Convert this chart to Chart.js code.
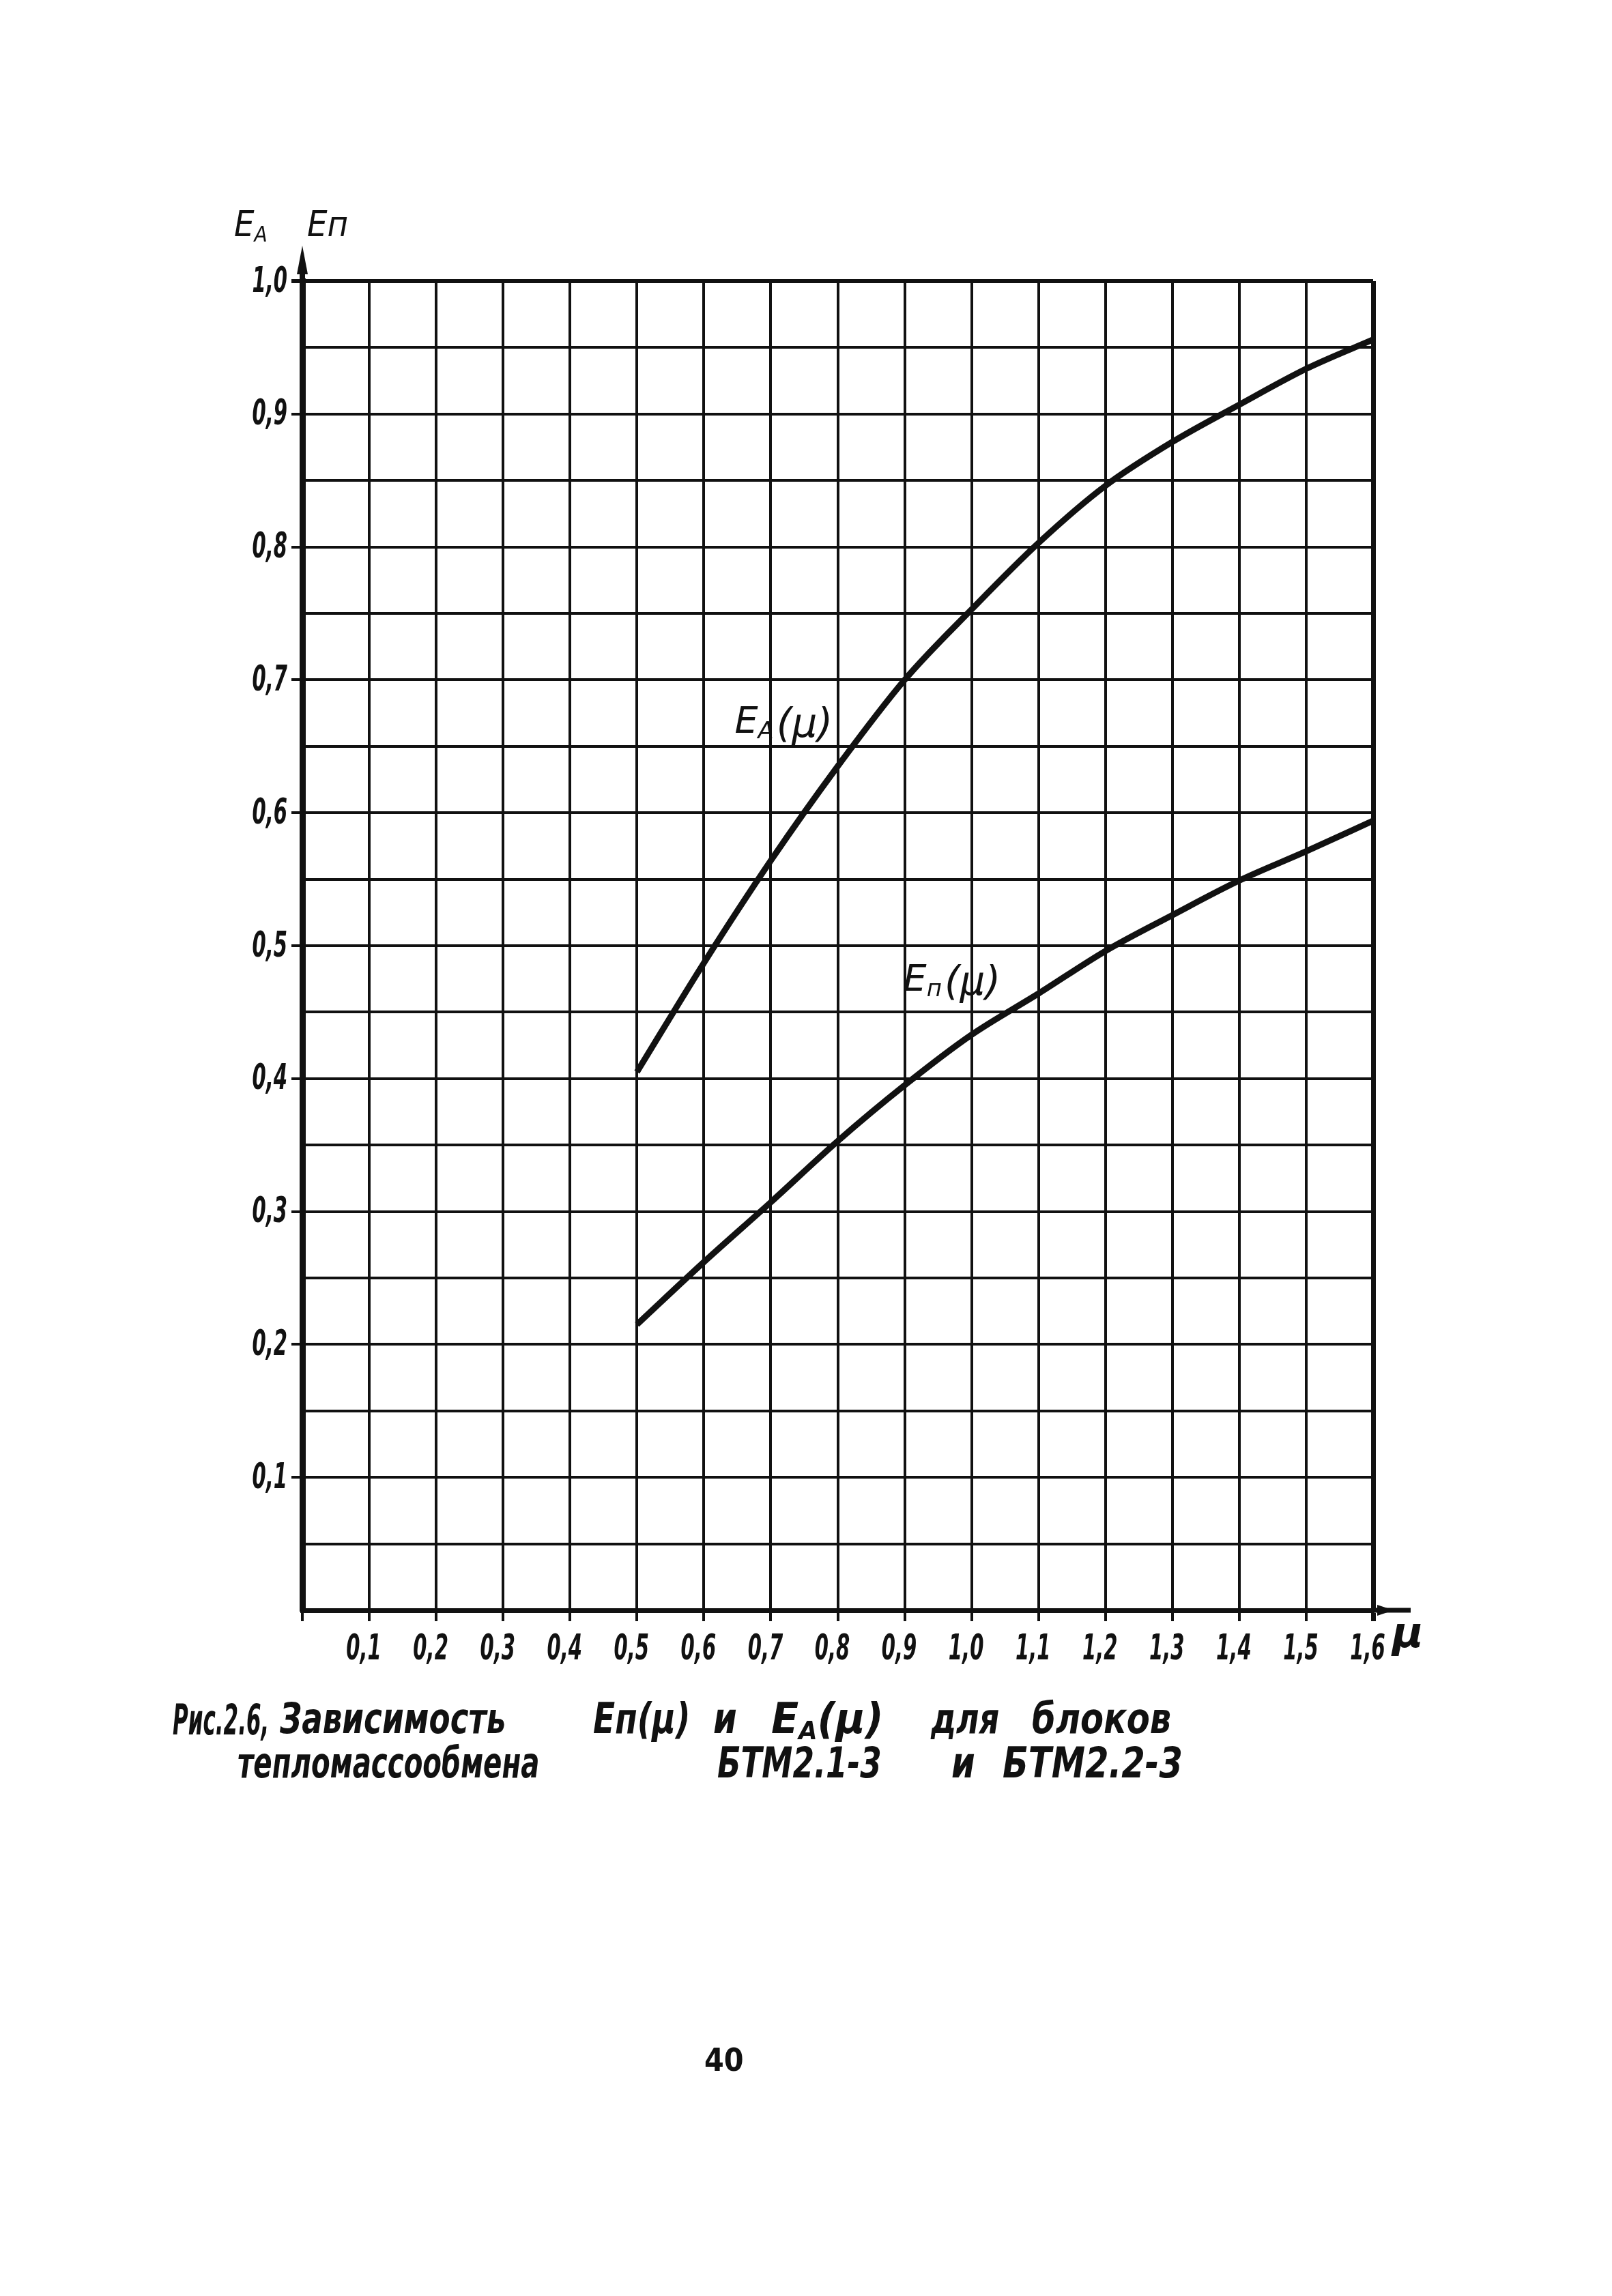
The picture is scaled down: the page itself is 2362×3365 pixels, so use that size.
<!DOCTYPE html>
<html lang="ru">
<head>
<meta charset="utf-8">
<title>Рис. 2.6</title>
<script src="https://cdn.jsdelivr.net/npm/chart.js@4.4.1/dist/chart.umd.min.js"></script>
<style>
    html, body { margin: 0; padding: 0; background: #fff; }
    #page { position: relative; width: 2362px; height: 3365px; overflow: hidden; background: #fff; }
    #chartBox { position: absolute; left: 0; top: 0; width: 2362px; height: 3365px; }
    .txt {
        --sx: 0.8;
        position: absolute;
        font-family: "DejaVu Sans", sans-serif;
        font-style: italic;
        color: #111;
        white-space: nowrap;
        line-height: 1;
        transform: scaleX(var(--sx));
        transform-origin: left top;
    }
    .cap { font-size: 62px; font-weight: bold; }
    .sub { font-size: 0.6em; position: relative; top: 0.25em; }
</style>
</head>
<body>
<div id="page">
    <div id="chartBox"><canvas id="effChart"></canvas></div>

    <!-- axis titles -->
    <div class="txt" style="left:343px; top:302px; font-size:52px; --sx:0.9;">E<span class="sub">А</span></div>
    <div class="txt" style="left:450px; top:302px; font-size:52px; --sx:0.9;">Eп</div>
    <div class="txt" style="left:2040px; top:2362px; font-size:62px; font-weight:bold; --sx:1;">μ</div>

    <!-- caption -->
    <div class="txt cap" style="left:253px; top:2490px; --sx:0.5;">Рис.2.6,</div>
    <div class="txt cap" style="left:410px; top:2488px; --sx:0.73;">Зависимость</div>
    <div class="txt cap" style="left:869px; top:2488px; --sx:0.76;">Eп(μ)</div>
    <div class="txt cap" style="left:1045px; top:2488px; --sx:0.8;">и</div>
    <div class="txt cap" style="left:1130px; top:2488px; --sx:0.95;">E<span class="sub">А</span>(μ)</div>
    <div class="txt cap" style="left:1364px; top:2488px; --sx:0.74;">для</div>
    <div class="txt cap" style="left:1512px; top:2488px; --sx:0.8;">блоков</div>

    <div class="txt cap" style="left:348px; top:2553px; --sx:0.65;">тепломассообмена</div>
    <div class="txt cap" style="left:1051px; top:2553px; --sx:0.73;">БТМ2.1-3</div>
    <div class="txt cap" style="left:1394px; top:2553px; --sx:0.8;">и</div>
    <div class="txt cap" style="left:1469px; top:2553px; --sx:0.8;">БТМ2.2-3</div>

    <div class="txt" style="left:1032px; top:2996px; font-size:46px; font-weight:bold; font-style:normal; --sx:0.9;">40</div>
</div>

<script>
// μ values (x axis)
const mu = [0.5, 0.6, 0.7, 0.8, 0.9, 1.0, 1.1, 1.2, 1.3, 1.4, 1.5, 1.6];

// EА(μ) - upper curve
const eA = [0.405, 0.487, 0.564, 0.635, 0.700, 0.753, 0.803, 0.846, 0.879, 0.907, 0.934, 0.956];

// Eп(μ) - lower curve
const eN = [0.215, 0.262, 0.307, 0.353, 0.395, 0.433, 0.464, 0.496, 0.523, 0.549, 0.571, 0.594];

// axis ranges / steps
const xMin = 0, xMax = 1.6, xStep = 0.1;
const yMin = 0, yMax = 1.0, yStep = 0.05;

// curve captions in data coordinates
const curveLabels = [
    { main: "E", sub: "А", rest: "(μ)", x: 0.646, y: 0.660 },
    { main: "E", sub: "п", rest: "(μ)", x: 0.898, y: 0.466 }
];

const INK = "#111";
const LABEL_FONT = "italic bold 52px 'DejaVu Sans', sans-serif";
const LABEL_SX = 0.56;

function comma(v) {
    return v.toFixed(1).replace(".", ",");
}

function isTenth(v) {
    return Math.abs(Math.round(v * 10) - v * 10) < 1e-6;
}

// narrow hand-lettered look for tick labels
function drawNarrow(ctx, text, cx, cy, align) {
    ctx.save();
    ctx.translate(cx, cy);
    ctx.scale(LABEL_SX, 1);
    ctx.textAlign = align;
    ctx.textBaseline = "middle";
    ctx.fillText(text, 0, 0);
    ctx.restore();
}

const decorations = {
    id: "decorations",
    afterDraw(chart) {
        const { ctx, chartArea: a, scales: { x, y } } = chart;
        ctx.save();
        ctx.fillStyle = INK;
        ctx.strokeStyle = INK;

        // tick labels
        ctx.font = LABEL_FONT;
        x.ticks.forEach(t => {
            if (t.value > 0) drawNarrow(ctx, comma(t.value), x.getPixelForValue(t.value) - 8, a.bottom + 58, "center");
        });
        y.ticks.forEach(t => {
            if (t.value > 0 && isTenth(t.value)) drawNarrow(ctx, comma(t.value), a.left - 22, y.getPixelForValue(t.value) + 2, "right");
        });

        // arrow on y axis
        ctx.lineWidth = 8;
        ctx.beginPath();
        ctx.moveTo(a.left, a.top);
        ctx.lineTo(a.left, a.top - 25);
        ctx.stroke();
        ctx.beginPath();
        ctx.moveTo(a.left, a.top - 52);
        ctx.lineTo(a.left - 8, a.top - 10);
        ctx.lineTo(a.left + 8, a.top - 10);
        ctx.closePath();
        ctx.fill();

        // arrow on x axis
        ctx.lineWidth = 7;
        ctx.beginPath();
        ctx.moveTo(a.right, a.bottom);
        ctx.lineTo(a.right + 55, a.bottom);
        ctx.stroke();
        ctx.beginPath();
        ctx.moveTo(a.right + 30, a.bottom);
        ctx.lineTo(a.right + 6, a.bottom - 8);
        ctx.lineTo(a.right + 6, a.bottom + 8);
        ctx.closePath();
        ctx.fill();

        // curve captions
        ctx.textBaseline = "alphabetic";
        curveLabels.forEach(l => {
            let px = x.getPixelForValue(l.x);
            const py = y.getPixelForValue(l.y);
            ctx.font = "italic 54px 'DejaVu Sans', sans-serif";
            ctx.fillText(l.main, px, py);
            px += ctx.measureText(l.main).width;
            ctx.font = "italic 34px 'DejaVu Sans', sans-serif";
            ctx.fillText(l.sub, px, py + 8);
            px += ctx.measureText(l.sub).width + 4;
            ctx.font = "italic 58px 'DejaVu Sans', sans-serif";
            ctx.fillText(l.rest, px, py + 6);
        });
        ctx.restore();
    }
};

new Chart(document.querySelector("#effChart"), {
    type: "line",
    data: {
        datasets: [
            {
                label: "EА(μ)",
                data: mu.map((m, i) => ({ x: m, y: eA[i] })),
                borderColor: INK,
                borderWidth: 9,
                pointRadius: 0,
                cubicInterpolationMode: "monotone",
                fill: false
            },
            {
                label: "Eп(μ)",
                data: mu.map((m, i) => ({ x: m, y: eN[i] })),
                borderColor: INK,
                borderWidth: 9,
                pointRadius: 0,
                cubicInterpolationMode: "monotone",
                fill: false
            }
        ]
    },
    options: {
        responsive: true,
        maintainAspectRatio: false,
        animation: false,
        layout: { padding: { left: 293, top: 412, right: 350, bottom: 895 } },
        plugins: { legend: { display: false }, tooltip: { enabled: false } },
        scales: {
            x: {
                type: "linear",
                min: xMin,
                max: xMax,
                afterFit: scale => { scale.height = 110; },
                ticks: {
                    stepSize: xStep,
                    autoSkip: false,
                    maxRotation: 0,
                    callback: () => ""
                },
                grid: {
                    color: INK,
                    lineWidth: c => (Math.abs(c.tick.value - xMax) < 1e-6 ? 7 : 4),
                    tickLength: 16,
                    tickColor: INK
                },
                border: { display: true, color: INK, width: 7 }
            },
            y: {
                type: "linear",
                min: yMin,
                max: yMax,
                afterFit: scale => { scale.width = 150; },
                ticks: {
                    stepSize: yStep,
                    autoSkip: false,
                    callback: () => ""
                },
                grid: {
                    color: INK,
                    lineWidth: c => (Math.abs(c.tick.value - yMax) < 1e-6 ? 6 : 4),
                    tickLength: 16,
                    tickColor: c => (c.tick.value > 0 && isTenth(c.tick.value) ? INK : "rgba(0,0,0,0)")
                },
                border: { display: true, color: INK, width: 9 }
            }
        }
    },
    plugins: [decorations]
});
</script>
</body>
</html>
